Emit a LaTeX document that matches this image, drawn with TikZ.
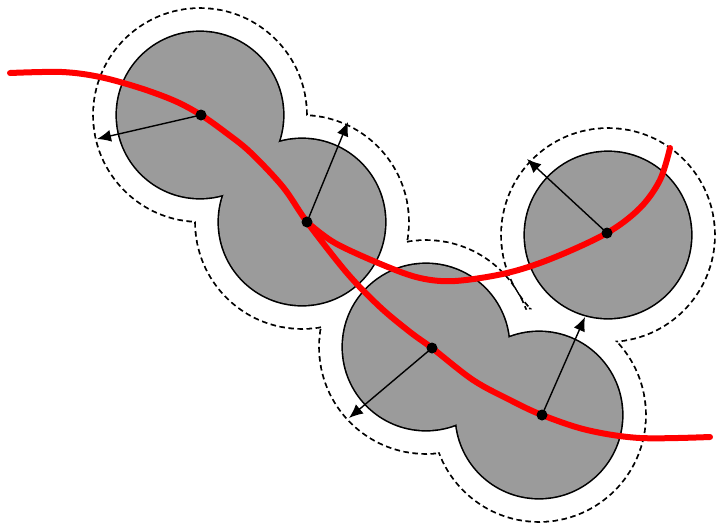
\documentclass[tikz,border=0pt]{standalone}
\usetikzlibrary{arrows.meta}
\definecolor{blobgray}{RGB}{155,155,155}
\definecolor{pathred}{RGB}{255,0,0}
\begin{document}
\begin{tikzpicture}[x=1pt,y=-1pt,
  halo/.style={draw=black,line width=3.6pt,dash pattern=on 5.5pt off 3.5pt},
  haloback/.style={fill=white},
  blobedge/.style={draw=black,line width=3.2pt},
  blobfill/.style={fill=blobgray},
  redpath/.style={draw=pathred,line width=6pt,line cap=round,line join=round},
  arr/.style={draw=black,line width=1.4pt,-{Latex[length=14pt,width=12pt]}},
  dot/.style={circle,fill=black,inner sep=0pt,minimum size=11pt}]
\useasboundingbox (0,0) rectangle (717,528);
% circle centres
\coordinate (c1) at (200,115);
\coordinate (c2) at (302,222);
\coordinate (c3) at (426,347);
\coordinate (c4) at (539,415);
\coordinate (c5) at (608,235);
% dashed outer boundary (union of enlarged discs)
\foreach \c in {c1,c2,c3,c4,c5} \draw[halo] (\c) circle[radius=106pt];
\foreach \c in {c1,c2,c3,c4,c5} \fill[haloback] (\c) circle[radius=106pt];
% grey discs
\foreach \c in {c1,c2,c3,c4,c5} \draw[blobedge] (\c) circle[radius=83pt];
\foreach \c in {c1,c2,c3,c4,c5} \fill[blobfill] (\c) circle[radius=83pt];
% red paths
\draw[redpath] plot[smooth,tension=0.55] coordinates {(10,73) (62,72) (100,77) (140,88) (175,101) (201,115) (225,132) (250,152) (283,187) (307,222) (347,273) (380,307) (410,332) (432,348) (473,380) (510,400) (542,415) (587,430) (640,438) (710,437)};
\draw[redpath] plot[smooth,tension=0.55] coordinates {(307,222) (335,243) (383,265) (420,278) (455,281) (507,273) (553,258) (607,233) (640,208) (660,180) (670,148)};
% dots
\node[dot] (p1) at (201,115) {};
\node[dot] (p2) at (307,222) {};
\node[dot] (p3) at (432,348) {};
\node[dot] (p4) at (542,415) {};
\node[dot] (p5) at (607,233) {};
% arrow ends
\coordinate (a1) at (97,139);
\coordinate (a2) at (348,122);
\coordinate (a3) at (349,418);
\coordinate (a4) at (585,317);
\coordinate (a5) at (527,159);
\draw[arr] (p1.center) -- (a1);
\draw[arr] (p2.center) -- (a2);
\draw[arr] (p3.center) -- (a3);
\draw[arr] (p4.center) -- (a4);
\draw[arr] (p5.center) -- (a5);
\end{tikzpicture}
\end{document}
